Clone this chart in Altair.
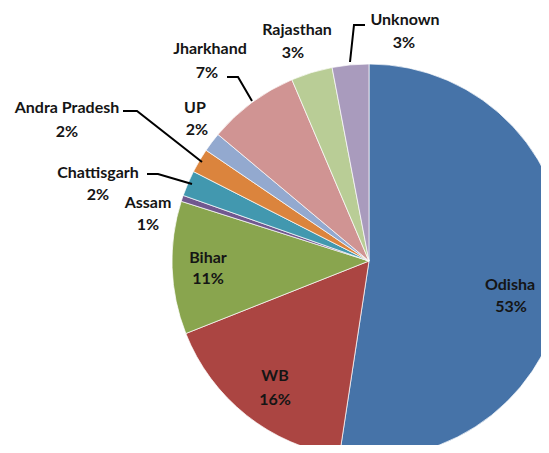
import altair as alt
import pandas as pd

# ---- data ----
states = ["Odisha", "WB", "Bihar", "Assam", "Chattisgarh", "Andra Pradesh",
          "UP", "Jharkhand", "Rajasthan", "Unknown"]
shares = [52.4, 16.6, 10.9, 0.5, 2.1, 2.0, 1.6, 7.5, 3.4, 3.0]
pct_labels = ["53%", "16%", "11%", "1%", "2%", "2%", "2%", "7%", "3%", "3%"]
colors = ["#4673A8", "#AB4542", "#89A54E", "#71588F", "#4298AF", "#DB843D",
          "#93A9CF", "#D09493", "#B9CD96", "#A99BBD"]

# ---- layout (page pixel coordinates; the chart starts at the 8px page margin) ----
M = 8
CX, CY, R = 369, 261, 197
name_pos = [(510, 285), (275, 376), (208, 258), (148, 203), (98, 173),
            (67, 108), (195, 108), (210, 49), (297, 30), (405, 20)]
pct_pos = [(511, 307), (275, 400), (208, 279), (148, 225), (98, 195),
           (67, 132), (197, 130), (207, 73), (293, 53), (404, 43)]
leaders = {
    "Andra Pradesh": [(123, 111), (137, 111), (202, 162)],
    "Chattisgarh": [(147, 174), (158, 174), (192, 184)],
    "Jharkhand": [(227, 77), (238, 77), (252, 101)],
    "Unknown": [(350, 62), (354, 25), (365, 25)],
}

df = pd.DataFrame({"state": states, "share": shares, "idx": list(range(len(states)))})

labels = pd.DataFrame({
    "text": states + pct_labels,
    "x": [p[0] - M for p in name_pos] + [p[0] - M for p in pct_pos],
    "y": [p[1] - M for p in name_pos] + [p[1] - M for p in pct_pos],
})

rows = []
for name, pts in leaders.items():
    for k, (x, y) in enumerate(pts):
        rows.append({"g": name, "k": k, "x": x - M, "y": y - M})
lines = pd.DataFrame(rows)

pie = alt.Chart(df).mark_arc(radius=R, x=CX - M, y=CY - M, stroke="white", strokeWidth=0.7).encode(
    theta=alt.Theta("share:Q", stack=True),
    order=alt.Order("idx:Q"),
    color=alt.Color("state:N", scale=alt.Scale(domain=states, range=colors), legend=None),
)

text = alt.Chart(labels).mark_text(
    font="Lato", fontSize=16, fontWeight="bold", color="#151515", baseline="middle", align="center"
).encode(
    x=alt.X("x:Q", scale=None, axis=None),
    y=alt.Y("y:Q", scale=None, axis=None),
    text="text:N",
)

lead = alt.Chart(lines).mark_line(color="#000000", strokeWidth=2).encode(
    x=alt.X("x:Q", scale=None, axis=None),
    y=alt.Y("y:Q", scale=None, axis=None),
    detail="g:N",
    order="k:Q",
)

chart = alt.layer(pie, lead, text).properties(
    width=549 - 2 * M, height=453 - 2 * M,
    padding=0,
    autosize=alt.AutoSizeParams(type="none"),
).configure_view(stroke=None)

chart.save("out.html", embed_options={"renderer": "svg", "actions": False})
